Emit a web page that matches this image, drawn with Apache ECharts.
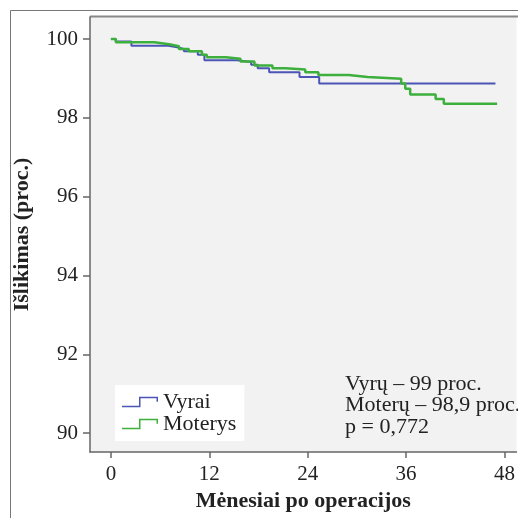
<!DOCTYPE html>
<html>
<head>
<meta charset="utf-8">
<script src="https://cdn.jsdelivr.net/npm/echarts@6/dist/echarts.min.js"></script>
<style>
html,body{margin:0;padding:0;background:#fff;}
#chart{width:518px;height:518px;}
</style>
</head>
<body>
<div id="chart"></div>
<script>
// ---- data ----
var seriesNames = ['Vyrai', 'Moterys'];
var xTicks = [0, 12, 24, 36, 48];
var yTicks = [90, 92, 94, 96, 98, 100];
var vyraiMonths = [0, 0.6, 2.5, 7.0, 8.1, 8.9, 10.6, 11.4, 15.4, 17.1, 17.9, 19.3, 23.0, 25.4, 46.9];
var vyraiSurv   = [100, 99.94, 99.83, 99.79, 99.75, 99.69, 99.6, 99.46, 99.42, 99.35, 99.26, 99.16, 99.04, 98.87, 98.87];
var moterysMonths = [0, 0.6, 5.3, 7.1, 8.3, 9.5, 11.1, 11.7, 14.0, 15.8, 17.5, 19.7, 21.3, 23.7, 25.3, 29.0, 31.3, 35.4, 35.9, 36.5, 39.6, 40.6, 47.1];
var moterysSurv   = [100, 99.92, 99.87, 99.82, 99.75, 99.69, 99.6, 99.54, 99.5, 99.43, 99.33, 99.26, 99.23, 99.16, 99.09, 99.04, 98.99, 98.87, 98.74, 98.59, 98.48, 98.36, 98.36];
var annotationLines = ['Vyrų – 99 proc.', 'Moterų – 98,9 proc.', 'p = 0,772'];
var xTitle = 'Mėnesiai po operacijos';
var yTitle = 'Išlikimas (proc.)';

function zip(a, b) { return a.map(function (v, i) { return [v, b[i]]; }); }

var FONT = '"Liberation Serif", "DejaVu Serif", serif';
var legendIcon = 'path://M0,9 L17,9 L17,0 L36,0 L36,5 L34.5,5 L34.5,1.5 L18.5,1.5 L18.5,10.5 L0,10.5 Z';

var chart = echarts.init(document.getElementById('chart'), null, {renderer: 'canvas'});
chart.setOption({
  animation: false,
  backgroundColor: '#ffffff',
  grid: {
    left: 90, top: 17, right: 0, bottom: 66,
    show: true, backgroundColor: '#f2f2f2', borderWidth: 0
  },
  legend: {
    orient: 'vertical',
    left: 115, top: 385,
    padding: [6, 8, 6, 7],
    backgroundColor: '#ffffff',
    itemGap: 0,
    itemWidth: 36, itemHeight: 10.5,
    icon: legendIcon,
    textStyle: {fontFamily: FONT, fontSize: 22, color: '#222', lineHeight: 19, padding: [0, 0, 0, 0]},
    data: seriesNames
  },
  xAxis: {
    type: 'value',
    min: -2.55, max: 49.46,
    name: xTitle,
    nameLocation: 'middle',
    nameGap: 37,
    nameTextStyle: {fontFamily: FONT, fontSize: 22, fontWeight: 'bold', color: '#222'},
    axisLine: {show: true, onZero: false, lineStyle: {color: '#666', width: 1.5}},
    axisTick: {show: true, length: 6, customValues: xTicks, lineStyle: {color: '#666', width: 1.5}},
    axisLabel: {customValues: xTicks, margin: 12, fontFamily: FONT, fontSize: 21, color: '#222'},
    splitLine: {show: false}
  },
  yAxis: {
    type: 'value',
    min: 89.52, max: 100.56,
    name: yTitle,
    nameLocation: 'middle',
    nameGap: 57,
    nameRotate: 90,
    nameTextStyle: {fontFamily: FONT, fontSize: 22, fontWeight: 'bold', color: '#222'},
    axisLine: {show: true, onZero: false, lineStyle: {color: '#666', width: 1.5}},
    axisTick: {show: true, length: 7, customValues: yTicks, lineStyle: {color: '#666', width: 1.5}},
    axisLabel: {customValues: yTicks, margin: 12, fontFamily: FONT, fontSize: 21, color: '#222'},
    splitLine: {show: false}
  },
  series: [
    {
      name: seriesNames[0], type: 'line', step: 'end', showSymbol: false,
      data: zip(vyraiMonths, vyraiSurv),
      color: '#4a55b5',
      lineStyle: {color: '#4a55b5', width: 2}
    },
    {
      name: seriesNames[1], type: 'line', step: 'end', showSymbol: false,
      data: zip(moterysMonths, moterysSurv),
      color: '#3caf3c',
      lineStyle: {color: '#3caf3c', width: 2.5}
    }
  ],
  graphic: [
    {type: 'line', shape: {x1: 10.5, y1: 10.5, x2: 518, y2: 10.5}, style: {stroke: '#777', lineWidth: 1}, silent: true},
    {type: 'line', shape: {x1: 10.5, y1: 10.5, x2: 10.5, y2: 518}, style: {stroke: '#777', lineWidth: 1}, silent: true},
    {type: 'line', shape: {x1: 90, y1: 16.5, x2: 518, y2: 16.5}, style: {stroke: '#888', lineWidth: 2}, silent: true},
    {
      type: 'text', left: 345, top: 373, silent: true,
      style: {text: annotationLines.join('\n'), font: '22px ' + FONT, fill: '#222', lineHeight: 21.5}
    }
  ]
});
</script>
</body>
</html>
